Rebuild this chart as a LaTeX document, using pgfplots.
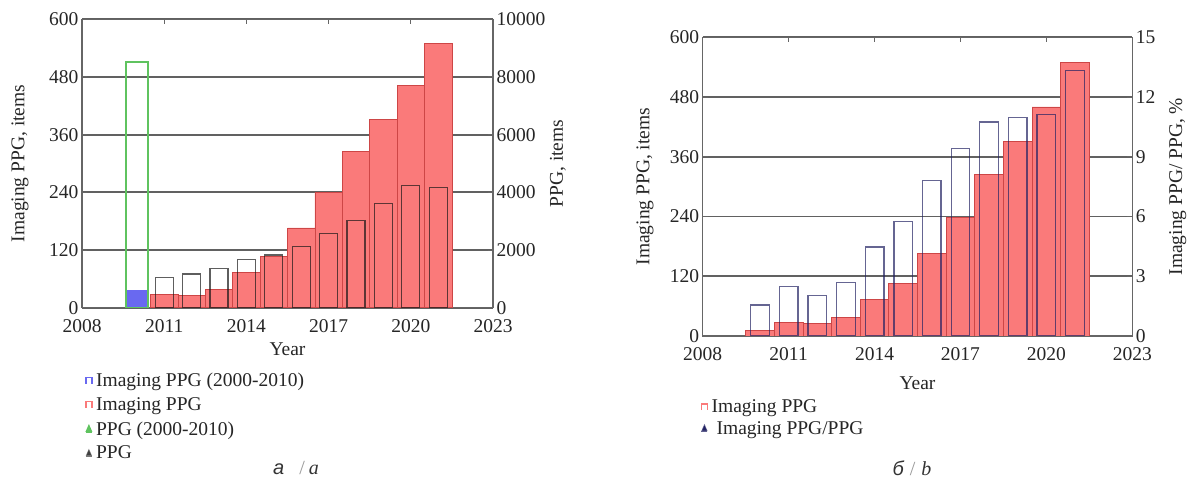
\documentclass[border=0pt]{standalone}
\usepackage{fontspec}
\setmainfont{Liberation Serif}
\newfontfamily\capsans{Liberation Sans}
\usepackage{pgfplots}
\pgfplotsset{compat=1.18}
\definecolor{redfill}{RGB}{250,122,122}
\definecolor{rededge}{RGB}{205,70,70}
\definecolor{bluefill}{RGB}{105,105,240}
\definecolor{greenline}{RGB}{95,195,95}
\definecolor{navy}{RGB}{35,35,100}

\pgfplotsset{
  base/.style={
    scale only axis,
    xmin=2008, xmax=2023, xtick={2008,2011,...,2023},
    ymin=0,
    scaled y ticks=false,
    /pgf/number format/assume math mode=true,
    /pgf/number format/1000 sep={},
    tick label style={font=\fontsize{19.5}{21}\selectfont, text=black!85},
    xticklabel style={yshift=-8pt},
    label style={font=\fontsize{19.5}{21}\selectfont, text=black!85},
    axis line style={black!60, line width=1.3pt},
    tick style={black!60, line width=1pt},
    major tick length=5pt,
    tick align=inside,
  },
  legsq/.style={legend image code/.code={
      \draw[#1, line width=1.4pt] (0pt,-3pt) -- (0pt,3pt) -- (6pt,3pt) -- (6pt,-3pt);}},
  legtri/.style={legend image code/.code={
      \fill[#1] (0.8pt,-2pt) -- (3pt,3pt) -- (5.2pt,-2pt) -- cycle;
      \draw[#1, line width=1pt] (0pt,-3.2pt) -- (6pt,-3.2pt);}},
  leg/.style={legend style={draw=none, fill=none, font=\fontsize{19.5}{21}\selectfont,
      text=black!85, legend cell align=left,
      nodes={inner xsep=3.5pt, inner ysep=2pt}}},
}

\begin{document}
\begin{tikzpicture}
\useasboundingbox (0pt,0pt) rectangle (1192pt,484pt);

% ---------- chart a, left axis ----------
\begin{axis}[base, at={(82pt,176.3pt)}, anchor=south west, width=411pt, height=288.4pt,
  ymax=600, ytick={0,120,...,600}, ytick pos=left,
  ymajorgrids, grid style={black!62, line width=1.8pt},
  ylabel={Imaging PPG, items},
  ylabel style={at={(axis description cs:-0.151,0.5)}, anchor=center},
  xlabel={Year},
  xlabel style={at={(axis description cs:0.5,-0.143)}, anchor=center}]
\addplot[ybar, bar width=0.8, bar shift=0pt, fill=bluefill, draw=none]
  coordinates {(2010,37)};
\addplot[ybar, bar width=1, bar shift=0pt, fill=redfill, draw=rededge, line width=0.8pt]
  coordinates {(2011,28) (2012,25) (2013,38) (2014,74) (2015,106) (2016,166)
               (2017,240) (2018,325) (2019,392) (2020,462) (2021,550)};
\end{axis}

% ---------- chart a, right axis ----------
\begin{axis}[base, leg, at={(82pt,176.3pt)}, anchor=south west, width=411pt, height=288.4pt,
  hide x axis, axis y line*=right,
  ymax=10000, ytick={0,2000,...,10000},
  ylabel={PPG, items},
  ylabel style={at={(axis description cs:1.158,0.5)}, anchor=center},
  legend style={at={(axis description cs:0.0,-0.212)}, anchor=north west, row sep=5.5pt}]
\addlegendimage{legsq=bluefill}
\addlegendentry{Imaging PPG (2000-2010)}
\addlegendimage{legsq=redfill}
\addlegendentry{Imaging PPG}
\addplot[ybar, bar width=0.8, bar shift=0pt, fill=none, draw=greenline, line width=1.6pt, legtri=greenline]
  coordinates {(2010,8520)};
\addlegendentry{PPG (2000-2010)}
\addplot[ybar, bar width=0.66, bar shift=0pt, fill=none, draw=black!90, draw opacity=0.7, line width=1.2pt, legtri=black!75]
  coordinates {(2011,1050) (2012,1170) (2013,1370) (2014,1660) (2015,1830) (2016,2115)
               (2017,2580) (2018,3010) (2019,3600) (2020,4225) (2021,4160)};
\addlegendentry{PPG}
\end{axis}

% ---------- chart b, left axis ----------
\begin{axis}[base, at={(702.7pt,148pt)}, anchor=south west, width=429.6pt, height=298.7pt,
  ymax=600, ytick={0,120,...,600}, ytick pos=left,
  ymajorgrids, grid style={black!62, line width=1.8pt},
  ylabel={Imaging PPG, items},
  ylabel style={at={(axis description cs:-0.134,0.5)}, anchor=center},
  xlabel={Year},
  xlabel style={at={(axis description cs:0.5,-0.157)}, anchor=center}]
\addplot[ybar, bar width=1, bar shift=0pt, fill=redfill, draw=rededge, line width=0.8pt]
  coordinates {(2010,12) (2011,28) (2012,25) (2013,38) (2014,73) (2015,105) (2016,165)
               (2017,239) (2018,324) (2019,391) (2020,460) (2021,549)};
\end{axis}

% ---------- chart b, right axis ----------
\begin{axis}[base, leg, at={(702.7pt,148pt)}, anchor=south west, width=429.6pt, height=298.7pt,
  hide x axis, axis y line*=right,
  ymax=15, ytick={0,3,...,15},
  ylabel={Imaging PPG/ PPG, \%},
  ylabel style={at={(axis description cs:1.106,0.5)}, anchor=center},
  legend style={at={(axis description cs:-0.012,-0.2)}, anchor=north west, row sep=3pt}]
\addlegendimage{legsq=redfill}
\addlegendentry{Imaging PPG}
\addplot[ybar, bar width=0.65, bar shift=0pt, fill=none, draw=navy, draw opacity=0.7, line width=1.3pt, legtri=navy]
  coordinates {(2010,1.55) (2011,2.5) (2012,2.05) (2013,2.67) (2014,4.47) (2015,5.75)
               (2016,7.8) (2017,9.43) (2018,10.75) (2019,10.97) (2020,11.13) (2021,13.33)};
\addlegendentry{\hspace{5pt}Imaging PPG/PPG}
\end{axis}

% captions
\node[font=\fontsize{20}{22}\selectfont, text=black!80] at (296pt,16pt)
  {{\capsans\itshape а}\hspace{15pt}{\color{black!40}/}\hspace{4pt}{\itshape a}};
\node[font=\fontsize{20}{22}\selectfont, text=black!80] at (912pt,16pt)
  {{\capsans\itshape б}\hspace{6pt}{\color{black!40}/}\hspace{6pt}{\itshape b}};
\end{tikzpicture}
\end{document}
